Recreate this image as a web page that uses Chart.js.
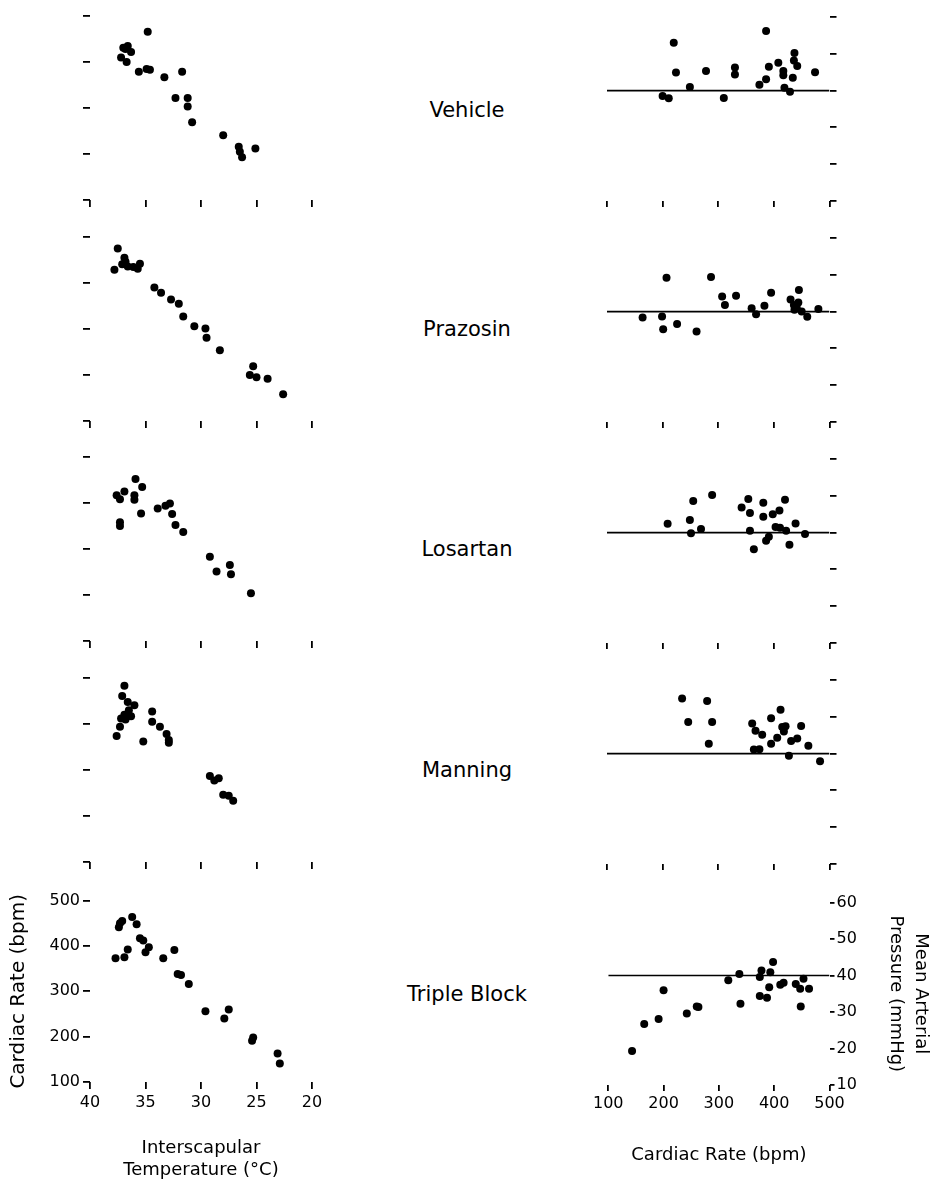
<!DOCTYPE html>
<html>
<head>
<meta charset="utf-8">
<script src="https://cdn.jsdelivr.net/npm/chart.js@4.4.0/dist/chart.umd.min.js"></script>
<style>
  html, body { margin: 0; padding: 0; background: #fff; overflow: hidden; width: 930px; height: 1181px; }
  canvas { position: absolute; }
  .lab { position: absolute; left: 367px; width: 200px; text-align: center;
         font: 21px/21px 'DejaVu Sans'; color: #000; white-space: nowrap; }
</style>
</head>
<body>
<script>
// groups, top to bottom
const groups = ['Vehicle', 'Prazosin', 'Losartan', 'Manning', 'Triple Block'];

// left panels: interscapular temperature (C) vs cardiac rate (bpm)
const vehicleTemp = [34.8, 37.0, 36.6, 36.3, 36.8, 37.2, 36.7, 35.6, 34.9, 34.6, 33.3, 31.7, 32.3, 31.2, 31.2, 30.8, 28.0, 26.6, 26.5, 26.3, 25.1];
const vehicleRate = [466, 431, 435, 422, 428, 410, 400, 379, 385, 383, 367, 379, 322, 322, 303, 269, 241, 216, 205, 193, 212];
const prazosinTemp = [37.5, 36.9, 37.1, 37.8, 36.6, 36.1, 35.7, 35.5, 36.8, 34.2, 33.6, 32.7, 32.0, 31.6, 30.6, 29.6, 29.5, 28.3, 25.3, 25.6, 25.0, 24.0, 22.6];
const prazosinRate = [475, 455, 441, 429, 436, 435, 431, 442, 446, 390, 379, 364, 355, 327, 306, 301, 281, 254, 219, 200, 195, 192, 158];
const losartanTemp = [35.9, 35.3, 36.9, 37.6, 37.3, 36.0, 36.0, 35.4, 37.3, 37.3, 33.9, 33.2, 32.8, 32.6, 32.3, 31.6, 29.2, 28.6, 27.4, 27.3, 25.5];
const losartanRate = [452, 435, 425, 417, 408, 417, 407, 377, 358, 350, 388, 394, 399, 376, 352, 337, 283, 251, 265, 245, 204];
const manningTemp = [36.9, 37.1, 36.6, 36.0, 36.5, 36.9, 36.3, 37.2, 36.8, 37.3, 37.6, 35.2, 34.4, 34.4, 33.7, 33.1, 32.9, 32.9, 29.2, 28.8, 28.4, 28.0, 27.5, 27.1];
const manningRate = [483, 461, 448, 441, 430, 420, 417, 412, 410, 394, 374, 362, 427, 405, 394, 378, 365, 359, 287, 277, 282, 246, 244, 233];
const tripleTemp = [37.7, 36.9, 36.6, 37.4, 37.3, 37.1, 36.2, 35.8, 35.5, 35.2, 34.7, 35.0, 33.4, 32.4, 32.1, 31.8, 31.1, 29.6, 27.9, 27.5, 25.4, 25.3, 23.1, 22.9];
const tripleRate = [373, 375, 392, 441, 450, 455, 464, 448, 417, 412, 397, 386, 373, 391, 338, 336, 316, 256, 240, 260, 191, 198, 163, 141];

// right panels: cardiac rate (bpm) vs mean arterial pressure (mmHg)
const vehicleHR = [220, 224, 200, 211, 249, 278, 310, 330, 330, 374, 386, 386, 391, 408, 417, 417, 419, 429, 434, 437, 436, 442, 474];
const vehicleMAP = [53.0, 44.9, 38.5, 37.9, 41.0, 45.3, 38.0, 46.3, 44.4, 41.6, 43.1, 56.2, 46.5, 47.6, 45.3, 44.2, 40.8, 39.7, 43.5, 50.2, 48.2, 46.7, 45.0];
const prazosinHR = [207, 287, 164, 199, 201, 226, 261, 307, 312, 332, 360, 368, 383, 395, 430, 445, 444, 436, 437, 450, 460, 480, 441];
const prazosinMAP = [49.2, 49.4, 38.4, 38.7, 35.2, 36.6, 34.6, 44.1, 41.8, 44.3, 40.9, 39.3, 41.6, 45.1, 43.3, 45.9, 42.5, 41.8, 40.5, 40.0, 38.6, 40.7, 41.2];
const losartanHR = [209, 255, 289, 249, 251, 269, 342, 354, 357, 381, 381, 398, 410, 420, 357, 364, 386, 391, 403, 411, 422, 428, 439, 456];
const losartanMAP = [42.4, 48.6, 50.2, 43.4, 39.8, 41.0, 46.8, 49.1, 45.3, 48.1, 44.3, 45.0, 46.0, 48.9, 40.5, 35.5, 37.8, 38.9, 41.5, 41.3, 40.5, 36.7, 42.5, 39.6];
const manningHR = [235, 280, 246, 289, 283, 361, 367, 379, 395, 412, 415, 421, 418, 406, 395, 431, 442, 449, 462, 364, 374, 427, 483];
const manningMAP = [55.0, 54.3, 48.6, 48.6, 42.7, 48.2, 46.2, 45.1, 49.6, 51.9, 47.2, 47.4, 46.0, 44.3, 42.7, 43.4, 44.1, 47.5, 42.1, 41.1, 41.2, 39.4, 37.9];
const tripleHR = [143, 165, 191, 200, 242, 260, 263, 317, 337, 339, 374, 377, 374, 387, 391, 393, 398, 411, 417, 439, 447, 448, 453, 463];
const tripleMAP = [19.3, 26.7, 28.1, 36.0, 29.6, 31.5, 31.4, 38.7, 40.4, 32.3, 39.6, 41.4, 34.4, 33.9, 36.8, 40.9, 43.7, 37.5, 38.0, 37.7, 36.4, 31.5, 39.1, 36.4];

// reference pressure line
const refMAP = 40;
const refRange = [100, 500];

const tempByRow = [vehicleTemp, prazosinTemp, losartanTemp, manningTemp, tripleTemp];
const rateByRow = [vehicleRate, prazosinRate, losartanRate, manningRate, tripleRate];
const hrByRow = [vehicleHR, prazosinHR, losartanHR, manningHR, tripleHR];
const mapByRow = [vehicleMAP, prazosinMAP, losartanMAP, manningMAP, tripleMAP];

// layout (px)
const leftTop = [16, 237, 457, 678, 898];
const rightTop = [17, 238, 459, 680, 901];
const labelMid = [110.5, 329, 549, 770, 994];
const PLOT_H = 184;

Chart.defaults.font.family = 'DejaVu Sans';
Chart.defaults.color = '#000';

function makeCtx(left, top, w, h) {
  const c = document.createElement('canvas');
  c.width = w;
  c.height = h;
  c.style.left = left + 'px';
  c.style.top = top + 'px';
  document.body.appendChild(c);
  return c.getContext('2d');
}

function tickMarks(len) {
  return { display: true, drawOnChartArea: false, drawTicks: true, tickLength: len, color: '#000', lineWidth: 1.8 };
}

function pts(xs, ys) {
  return xs.map((x, i) => ({ x: x, y: ys[i] }));
}

const dots = { backgroundColor: '#000', borderWidth: 0, pointRadius: 4, pointHoverRadius: 4, clip: false };

groups.forEach((name, i) => {
  const last = i === groups.length - 1;

  // left panel
  const lTop = leftTop[i] - 10;
  const lH = last ? 1181 - lTop : 204;
  const lxH = lH - 10 - PLOT_H;
  new Chart(makeCtx(0, lTop, 330, lH), {
    type: 'scatter',
    data: { datasets: [Object.assign({ data: pts(tempByRow[i], rateByRow[i]) }, dots)] },
    options: {
      responsive: false, animation: false, devicePixelRatio: 1,
      layout: { padding: { top: 10, left: 0, right: 18, bottom: 0 } },
      plugins: { legend: { display: false }, tooltip: { enabled: false } },
      scales: {
        x: {
          type: 'linear', reverse: true, min: 20, max: 40, position: 'bottom',
          ticks: { stepSize: 5, display: last, font: { size: 16 }, padding: 4, maxRotation: 0, autoSkip: false },
          grid: tickMarks(7), border: { display: false },
          title: { display: last, text: ['Interscapular', 'Temperature (°C)'], font: { size: 18, lineHeight: 1.22 }, padding: { top: 0, bottom: 0 } },
          afterFit: s => { s.height = lxH; }
        },
        y: {
          type: 'linear', min: 100, max: 500, position: 'left',
          ticks: { stepSize: 100, display: last, font: { size: 16 }, padding: 3 },
          grid: tickMarks(7), border: { display: false },
          title: { display: last, text: 'Cardiac Rate (bpm)', font: { size: 20 }, padding: { top: 7, bottom: 0 } },
          afterFit: s => { s.width = 90; }
        }
      }
    }
  });

  // right panel
  const rTop = rightTop[i] - 10;
  const rH = last ? 1181 - rTop : 204;
  const rxH = rH - 10 - PLOT_H;
  new Chart(makeCtx(590, rTop, 345, rH), {
    type: 'scatter',
    data: {
      datasets: [
        Object.assign({ data: pts(hrByRow[i], mapByRow[i]) }, dots),
        { type: 'line', data: refRange.map(x => ({ x: x, y: refMAP })), borderColor: '#000', borderWidth: 1.6, pointRadius: 0, fill: false }
      ]
    },
    options: {
      responsive: false, animation: false, devicePixelRatio: 1,
      layout: { padding: { top: 10, left: 17, right: 0, bottom: 0 } },
      plugins: { legend: { display: false }, tooltip: { enabled: false } },
      scales: {
        x: {
          type: 'linear', min: 100, max: 500, position: 'bottom',
          ticks: { stepSize: 100, display: last, font: { size: 16 }, padding: 3, maxRotation: 0, autoSkip: false },
          grid: tickMarks(6), border: { display: false },
          title: { display: last, text: 'Cardiac Rate (bpm)', font: { size: 18, lineHeight: 1.22 }, padding: { top: 0, bottom: 15 } },
          afterFit: s => { s.height = rxH; }
        },
        y: {
          type: 'linear', min: 10, max: 60, position: 'right',
          ticks: { stepSize: 10, display: last, font: { size: 16 }, padding: last ? 2 : 3 },
          grid: tickMarks(last ? 5 : 7), border: { display: false },
          title: { display: last, text: ['Mean Arterial', 'Pressure (mmHg)'], font: { size: 18, lineHeight: 25 / 18 }, padding: { top: 1.5, bottom: 0 } },
          afterFit: s => { s.width = 105.5; }
        }
      }
    }
  });

  // group label in the middle
  const d = document.createElement('div');
  d.className = 'lab';
  d.textContent = name;
  d.style.top = (labelMid[i] - 10.2) + 'px';
  document.body.appendChild(d);
});
</script>
</body>
</html>
